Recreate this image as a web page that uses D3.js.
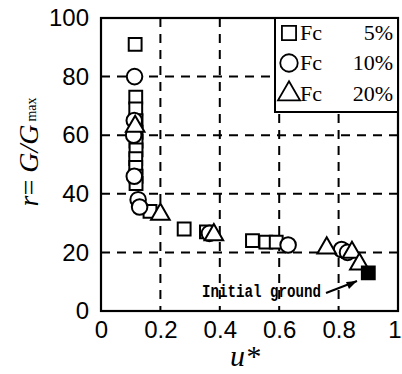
<!DOCTYPE html>
<html><head><meta charset="utf-8">
<script src="https://cdn.jsdelivr.net/npm/d3@7"></script>
<style>body{margin:0;background:#fff}svg{display:block}</style>
</head><body>
<svg id="c" width="402" height="374"></svg>
<script>
const fc5 = [[0.115,91],[0.117,73],[0.117,69],[0.118,65],[0.118,61],[0.118,58],[0.118,55],[0.117,52],[0.117,49],[0.118,46],[0.118,43.5],[0.165,34],[0.28,28],[0.355,27],[0.51,24],[0.555,23.5],[0.59,23.5]];
const fc10 = [[0.113,80],[0.112,65],[0.11,60],[0.112,46],[0.125,38],[0.13,35.5],[0.365,26.5],[0.63,22.5],[0.81,21],[0.83,20]];
const fc20 = [[0.115,63],[0.2,33],[0.38,26],[0.76,21.5],[0.845,20],[0.87,16]];
const initial = [[0.9,13]];
const xTicks = [0,0.2,0.4,0.6,0.8,1];
const yTicks = [0,20,40,60,80,100];
const legendLabels = [["Fc","5%"],["Fc","10%"],["Fc","20%"]];

const svg = d3.select("#c");
const L=101,R=398,T=18,B=311;
const x = d3.scaleLinear().domain([0,1]).range([L,R]);
const y = d3.scaleLinear().domain([0,100]).range([B,T]);

const g = svg.append("g");
g.selectAll(".vg").data(xTicks.slice(1,-1)).join("line")
  .attr("x1",d=>x(d)).attr("x2",d=>x(d)).attr("y1",T).attr("y2",B)
  .attr("stroke","#000").attr("stroke-width",2).attr("stroke-dasharray","9,7");
g.selectAll(".hg").data(yTicks.slice(1,-1)).join("line")
  .attr("y1",d=>y(d)).attr("y2",d=>y(d)).attr("x1",L).attr("x2",R)
  .attr("stroke","#000").attr("stroke-width",2).attr("stroke-dasharray","9,7");

const fontTick = "'Liberation Sans', Arial, sans-serif";
const xa = svg.append("g").attr("transform",`translate(0,${B})`)
  .call(d3.axisBottom(x).tickValues(xTicks).tickFormat(d=>d===0?"0":d===1?"1":d3.format(".1f")(d)).tickSize(0).tickPadding(10));
xa.select(".domain").remove();
xa.selectAll("text").attr("font-family",fontTick).attr("font-size",24).attr("fill","#000").attr("dy","0.71em");
xa.selectAll(".tick").filter(d=>d===1).select("text").attr("text-anchor","end").attr("dx","3");
const ya = svg.append("g").attr("transform",`translate(${L},0)`)
  .call(d3.axisLeft(y).tickValues(yTicks).tickSize(0).tickPadding(12));
ya.select(".domain").remove();
ya.selectAll("text").attr("font-family",fontTick).attr("font-size",24).attr("fill","#000");

svg.append("rect").attr("x",L).attr("y",T).attr("width",R-L).attr("height",B-T)
  .attr("fill","none").attr("stroke","#000").attr("stroke-width",2.2);

const lx=275, ly=T, lw=R-lx, lh=94;
svg.append("rect").attr("x",lx).attr("y",ly).attr("width",lw).attr("height",lh)
  .attr("fill","#fff").attr("stroke","#000").attr("stroke-width",2);

const sq = d3.symbol().type(d3.symbolSquare).size(165);
const ci = d3.symbol().type(d3.symbolCircle).size(190);
const tr = d3.symbol().type(d3.symbolTriangle).size(150);
const mk = (data,sym,fill)=>svg.append("g").selectAll("path").data(data).join("path")
  .attr("transform",d=>`translate(${x(d[0])},${y(d[1])})`).attr("d",sym)
  .attr("fill",fill).attr("stroke","#000").attr("stroke-width",2);
mk(fc5,sq,"#fff");
mk(fc10,ci,"#fff");
mk(fc20,tr,"#fff");
mk(initial,sq,"#000");

svg.append("text").attr("x",202).attr("y",297).text("Initial ground")
  .attr("font-family","'Liberation Mono', 'Courier New', monospace").attr("font-weight","bold").attr("font-size",18).attr("fill","#000")
  .attr("textLength",119).attr("lengthAdjust","spacingAndGlyphs");
svg.append("line").attr("x1",326).attr("y1",293).attr("x2",357).attr("y2",281).attr("stroke","#000").attr("stroke-width",2);
svg.append("path").attr("d","M357,281 L346,282 L349,289 Z").attr("fill","#000");

const syms=[d3.symbol().type(d3.symbolSquare).size(200)(),d3.symbol().type(d3.symbolCircle).size(240)(),d3.symbol().type(d3.symbolTriangle).size(210)()];
const rows=[33,63,94];
legendLabels.forEach((lab,i)=>{
  svg.append("path").attr("transform",`translate(289,${rows[i]})`).attr("d",syms[i])
    .attr("fill","none").attr("stroke","#000").attr("stroke-width",1.8);
  svg.append("text").attr("x",300).attr("y",rows[i]+7).text(lab[0])
    .attr("font-family","'Liberation Serif', serif").attr("font-size",22).attr("fill","#000");
  svg.append("text").attr("x",393).attr("y",rows[i]+7).attr("text-anchor","end").text(lab[1])
    .attr("font-family","'Liberation Serif', serif").attr("font-size",22).attr("fill","#000");
});

svg.append("text").attr("x",245).attr("y",366).attr("text-anchor","middle")
  .attr("font-family","'Liberation Serif', serif").attr("font-style","italic").attr("font-size",30).attr("fill","#000").text("u*");
const yt = svg.append("text").attr("transform","translate(38,152) rotate(-90)").attr("text-anchor","middle")
  .attr("font-family","'Liberation Serif', serif").attr("font-size",28).attr("fill","#000");
yt.append("tspan").attr("font-style","italic").text("r");
yt.append("tspan").text("= ");
yt.append("tspan").attr("font-style","italic").text("G/G");
yt.append("tspan").attr("font-size",14).attr("dy",-2).attr("dx",3).text("max");
</script>
</body></html>
